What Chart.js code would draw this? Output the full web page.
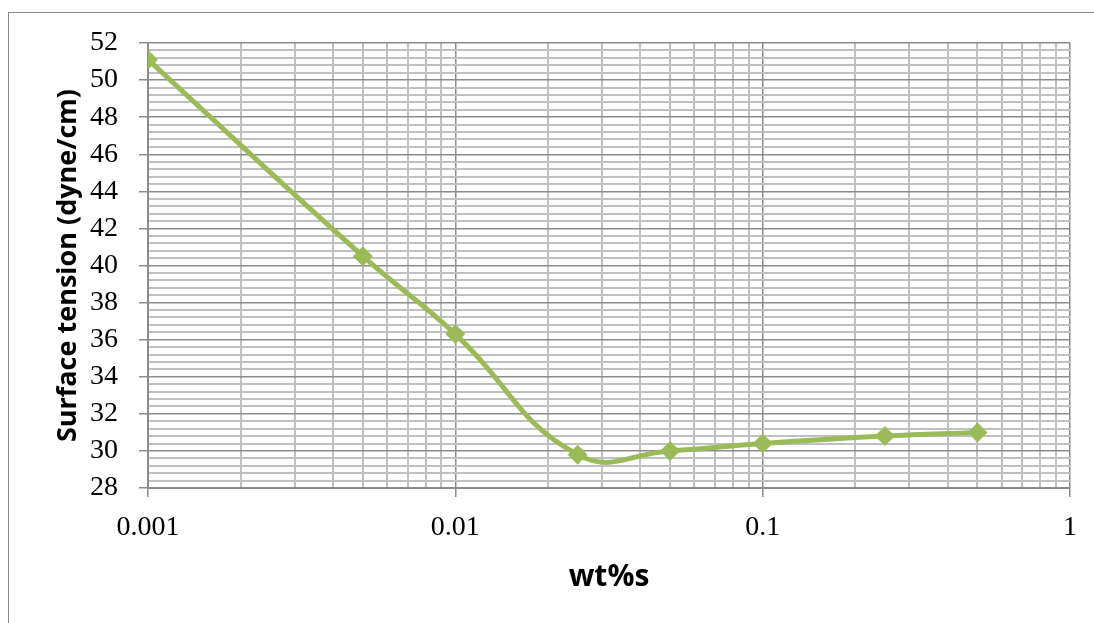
<!DOCTYPE html>
<html>
<head>
<meta charset="utf-8">
<script src="https://cdn.jsdelivr.net/npm/chart.js@4.4.0/dist/chart.umd.min.js"></script>
<style>
    body { margin: 0; background: #ffffff; }
    #box { position: relative; width: 1094px; height: 623px; }
</style>
</head>
<body>
<div id="box"><canvas id="chartTensao" width="1094" height="623"></canvas></div>
<script>
// dados
var concentracoes = [0.001, 0.005, 0.01, 0.025, 0.05, 0.1, 0.25, 0.5];
var tensaoSuperficial = [51.1, 40.5, 36.3, 29.8, 30.0, 30.4, 30.8, 31.0];
var ticksX = [0.001, 0.01, 0.1, 1];
var ticksY = [28, 30, 32, 34, 36, 38, 40, 42, 44, 46, 48, 50, 52];
var passoMenorY = 0.4;

var corMaior = '#8c8c8c';
var corMenor = '#c0c0c0';

function ehPotenciaDez(v) {
    var l = Math.log10(v);
    return Math.abs(l - Math.round(l)) < 1e-6;
}

function ehTickY(v) {
    return ticksY.some(t => Math.abs(t - v) < 1e-6);
}

// borda externa do grafico
const bordaExterna = {
    id: 'bordaExterna',
    beforeDraw(chart) {
        const ctx = chart.ctx;
        ctx.save();
        ctx.strokeStyle = '#8c8c8c';
        ctx.lineWidth = 1;
        ctx.strokeRect(8.5, 12.5, 1200, 700);
        ctx.restore();
    }
};

let pontos = [];
for (var i = 0; i < concentracoes.length; i++) {
    pontos.push({ x: concentracoes[i], y: tensaoSuperficial[i] });
}

const configTensao = {
    type: 'line',
    data: {
        datasets: [{
            label: 'Surface tension',
            data: pontos,
            borderColor: '#9bbb59',
            backgroundColor: '#9bbb59',
            borderWidth: 5,
            tension: 0.45,
            pointStyle: 'rectRot',
            pointRadius: 10,
            pointHoverRadius: 10,
            pointBorderWidth: 0
        }]
    },
    plugins: [bordaExterna],
    options: {
        responsive: false,
        animation: false,
        layout: { padding: { left: 0, top: 43, right: 24, bottom: 0 } },
        plugins: {
            legend: { display: false },
            tooltip: { enabled: false }
        },
        scales: {
            x: {
                type: 'logarithmic',
                min: 0.001,
                max: 1,
                afterFit: s => { s.height = 135; },
                afterBuildTicks: s => {
                    let t = [];
                    for (var d = 0; d < ticksX.length - 1; d++) {
                        for (var k = 1; k < 10; k++) t.push({ value: ticksX[d] * k });
                    }
                    t.push({ value: ticksX[ticksX.length - 1] });
                    s.ticks = t;
                },
                border: { color: corMaior, width: 2 },
                grid: {
                    color: ctx => ehPotenciaDez(ctx.tick.value) ? corMaior : corMenor,
                    lineWidth: ctx => ehPotenciaDez(ctx.tick.value) ? 1.5 : 2,
                    tickColor: ctx => ehPotenciaDez(ctx.tick.value) ? corMaior : 'rgba(0,0,0,0)',
                    tickLength: 9
                },
                ticks: {
                    autoSkip: false,
                    maxRotation: 0,
                    padding: 14,
                    color: '#000000',
                    font: { family: 'Liberation Serif', size: 28 },
                    callback: v => ehPotenciaDez(v) ? String(Number(v.toPrecision(3))) : ''
                },
                title: {
                    display: true,
                    text: 'wt%s',
                    color: '#000000',
                    font: { family: 'Open Sans', size: 30, weight: 'bold' },
                    padding: { top: 4, bottom: 28 }
                }
            },
            y: {
                type: 'linear',
                min: ticksY[0],
                max: ticksY[ticksY.length - 1],
                afterFit: s => { s.width = 148; },
                afterBuildTicks: s => {
                    let t = [];
                    var n = Math.round((ticksY[ticksY.length - 1] - ticksY[0]) / passoMenorY);
                    for (var k = 0; k <= n; k++) t.push({ value: Math.round((ticksY[0] + k * passoMenorY) * 10) / 10 });
                    s.ticks = t;
                },
                border: { color: corMaior, width: 2 },
                grid: {
                    color: ctx => ehTickY(ctx.tick.value) ? corMaior : corMenor,
                    lineWidth: ctx => ehTickY(ctx.tick.value) ? 1.5 : 2,
                    tickColor: ctx => ehTickY(ctx.tick.value) ? corMaior : 'rgba(0,0,0,0)',
                    tickLength: 9
                },
                ticks: {
                    autoSkip: false,
                    padding: 21,
                    color: '#000000',
                    font: { family: 'Liberation Serif', size: 28 },
                    callback: v => ehTickY(v) ? String(Math.round(v)) : ''
                },
                title: {
                    display: true,
                    text: 'Surface tension (dyne/cm)',
                    color: '#000000',
                    font: { family: 'Open Sans', size: 27, weight: 'bold' },
                    padding: { top: 52 }
                }
            }
        }
    }
};

let chartTensao = new Chart(document.getElementById('chartTensao'), configTensao);
</script>
</body>
</html>
